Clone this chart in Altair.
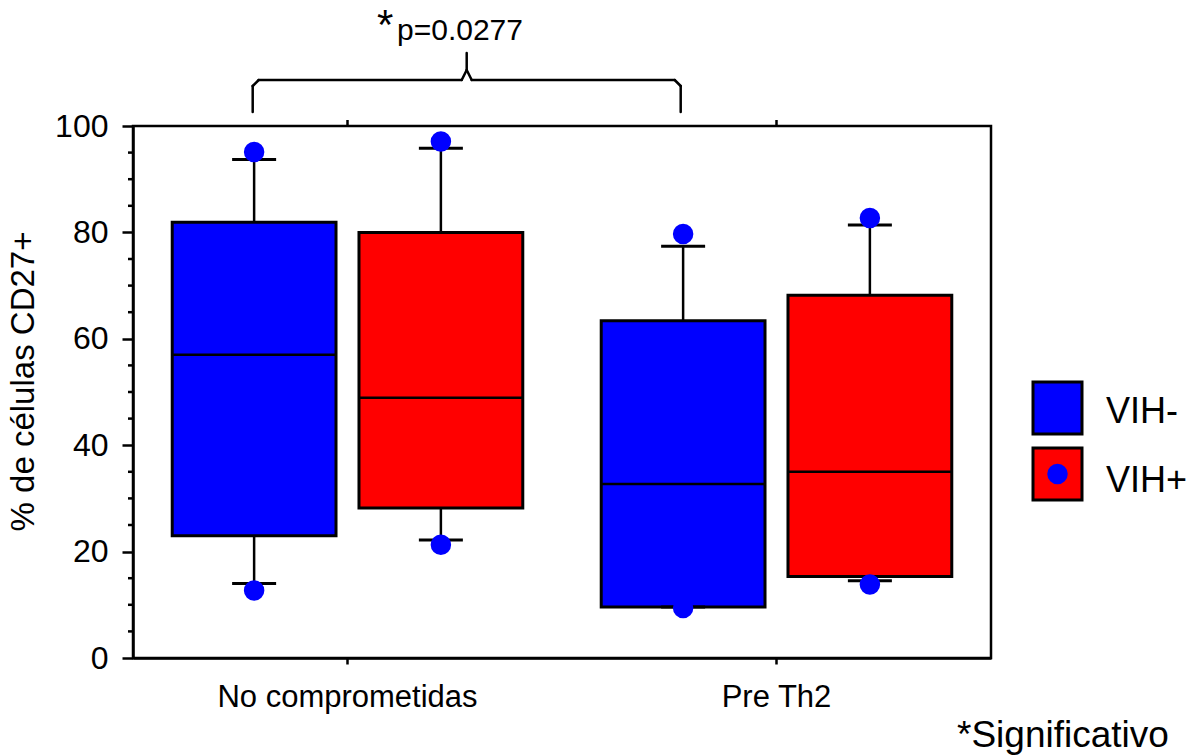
import altair as alt
import pandas as pd

# ---- data ----
categories = ["No comprometidas", "No comprometidas", "Pre Th2", "Pre Th2"]
groups = ["VIH-", "VIH+", "VIH-", "VIH+"]
q1 = [23.0, 28.2, 9.6, 15.3]
median = [57.0, 48.9, 32.7, 35.0]
q3 = [81.9, 80.0, 63.4, 68.2]
whisker_lo = [14.0, 22.2, 9.6, 14.5]
whisker_hi = [93.7, 95.8, 77.4, 81.4]
point_lo = [12.7, 21.3, 9.4, 13.8]
point_hi = [95.1, 97.1, 79.7, 82.7]

cat_order = ["No comprometidas", "Pre Th2"]
group_order = ["VIH-", "VIH+"]
group_colors = ["#0000FF", "#FF0000"]
y_ticks = [0, 20, 40, 60, 80, 100]
minor_ticks = [5, 10, 15, 25, 30, 35, 45, 50, 55, 65, 70, 75, 85, 90, 95]
p_text = "p=0.0277"
note_text = "*Significativo"
y_title = "% de células CD27+"

FONT = "Liberation Sans"

boxes = pd.DataFrame({
    "cat": categories, "grp": groups, "q1": q1, "median": median, "q3": q3,
    "wlo": whisker_lo, "whi": whisker_hi,
})
points = pd.DataFrame({
    "cat": categories + categories,
    "grp": groups + groups,
    "val": point_lo + point_hi,
})
cats = pd.DataFrame({"cat": cat_order})
minors = pd.DataFrame({"v": minor_ticks})
one = pd.DataFrame({"a": [0]})

x_axis = alt.Axis(title=None, labelAngle=0, labelFontSize=31, labelFont=FONT,
                  labelColor="black", labelPadding=18, labelLimit=0, tickSize=6,
                  tickWidth=2.5, tickColor="black", domainColor="black", domainWidth=2.5)
X = alt.X("cat:N", scale=alt.Scale(domain=cat_order, paddingInner=0, paddingOuter=0),
          axis=x_axis)
XO = alt.XOffset("grp:N", scale=alt.Scale(domain=group_order, paddingInner=0.123,
                                          paddingOuter=0.21))
y_scale = alt.Scale(domain=[0, 100], nice=False, zero=True)
y_axis = alt.Axis(values=y_ticks, title=y_title, titleFontSize=33, titleFont=FONT,
                  titleFontWeight="normal", titleColor="black", titleX=-100, titleY=255,
                  titleBaseline="alphabetic", grid=False,
                  labelFontSize=32, labelFont=FONT, labelColor="black", labelPadding=14,
                  tickSize=11, tickWidth=2.5, tickColor="black",
                  domainColor="black", domainWidth=2.5)


def Y(field):
    return alt.Y(field, scale=y_scale, axis=y_axis)


base = alt.Chart(boxes)

box = base.mark_bar(stroke="black", strokeWidth=3, opacity=1).encode(
    x=X, xOffset=XO, y=Y("q1:Q"), y2="q3:Q",
    color=alt.Color("grp:N", scale=alt.Scale(domain=group_order, range=group_colors),
                    legend=None),
)
whisk_hi = base.mark_rule(color="black", strokeWidth=2.5, opacity=1).encode(
    x=X, xOffset=XO, y=Y("q3:Q"), y2="whi:Q")
whisk_lo = base.mark_rule(color="black", strokeWidth=2.5, opacity=1).encode(
    x=X, xOffset=XO, y=Y("wlo:Q"), y2="q1:Q")
cap_hi = base.mark_tick(color="black", size=44, thickness=3, opacity=1).encode(
    x=X, xOffset=XO, y=Y("whi:Q"))
cap_lo = base.mark_tick(color="black", size=44, thickness=3, opacity=1).encode(
    x=X, xOffset=XO, y=Y("wlo:Q"))
med = base.mark_tick(color="black", size=164, thickness=2.5, opacity=1).encode(
    x=X, xOffset=XO, y=Y("median:Q"))
dots = alt.Chart(points).mark_circle(color="#0000FF", size=420, opacity=1).encode(
    x=X, xOffset=XO, y=Y("val:Q"))

top_ticks = alt.Chart(cats).mark_rule(color="black", strokeWidth=2.5).encode(
    x=X, y=alt.value(-6), y2=alt.value(0))
minor = alt.Chart(minors).mark_rule(color="black", strokeWidth=2.5).encode(
    y=Y("v:Q"), x=alt.value(-5), x2=alt.value(0))


def seg(x1, y1, x2, y2):
    return alt.Chart(one).mark_rule(color="black", strokeWidth=2.5, strokeCap="round").encode(
        x=alt.value(x1), y=alt.value(y1), x2=alt.value(x2), y2=alt.value(y2))


brace = [
    seg(119.7, -14, 119.7, -40),
    seg(119.7, -40, 125.7, -46),
    seg(125.7, -46, 328.7, -46),
    seg(328.7, -46, 333.7, -56),
    seg(333.7, -56, 338.7, -46),
    seg(333.7, -56, 333.7, -73),
    seg(338.7, -46, 541.7, -46),
    seg(541.7, -46, 547.7, -40),
    seg(547.7, -40, 547.7, -14),
]


def txt(s, x, y, size, align="left"):
    return alt.Chart(one).mark_text(font=FONT, fontSize=size, color="black", align=align,
                                    baseline="alphabetic").encode(
        x=alt.value(x), y=alt.value(y), text=alt.value(s))


ptext = txt(p_text, 264, -86, 30)
star = txt("*", 244, -87, 42)
note = txt(note_text, 824, 621, 37)

leg_blue = alt.Chart(one).mark_rect(color=group_colors[0], stroke="black", strokeWidth=3).encode(
    x=alt.value(900), x2=alt.value(949), y=alt.value(256), y2=alt.value(308))
leg_red = alt.Chart(one).mark_rect(color=group_colors[1], stroke="black", strokeWidth=3).encode(
    x=alt.value(900), x2=alt.value(949), y=alt.value(322), y2=alt.value(374))
leg_dot = alt.Chart(one).mark_circle(color="#0000FF", size=420, opacity=1).encode(
    x=alt.value(924.5), y=alt.value(348))
leg_t1 = txt(group_order[0], 973, 297, 36)
leg_t2 = txt(group_order[1], 973, 366, 36)

chart = alt.layer(
    box, whisk_hi, whisk_lo, cap_hi, cap_lo, med, dots, top_ticks, minor,
    *brace, ptext, star, note, leg_blue, leg_red, leg_dot, leg_t1, leg_t2,
).properties(
    width=858, height=532,
    padding={"left": 133, "top": 126, "right": 199, "bottom": 97},
    autosize=alt.AutoSizeParams(type="none"),
    background="white",
).configure_view(stroke="black", strokeWidth=2.5)

chart.save("out.html", embed_options={"renderer": "svg", "actions": False})
